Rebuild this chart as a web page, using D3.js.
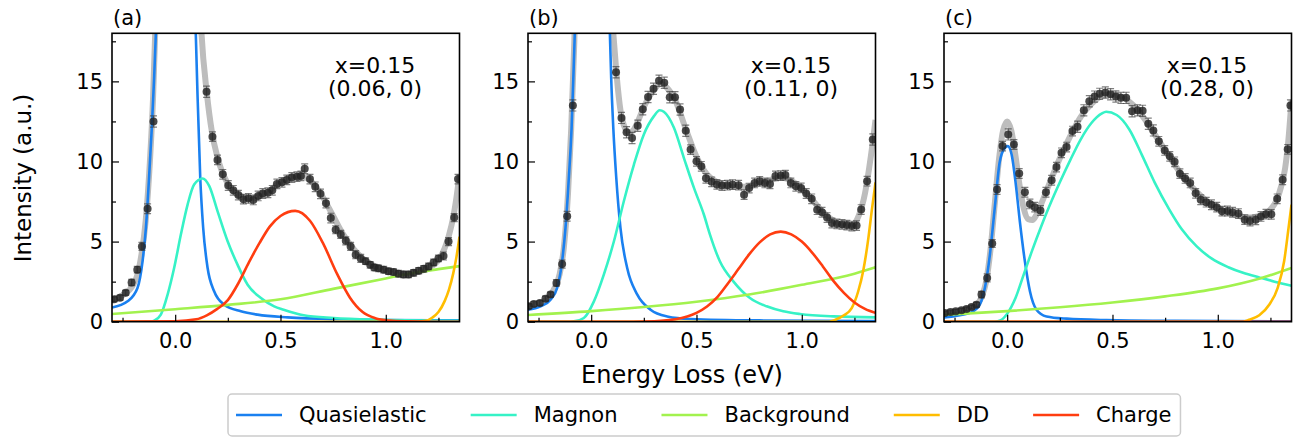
<!DOCTYPE html>
<html>
<head>
<meta charset="utf-8">
<script src="https://cdn.jsdelivr.net/npm/d3@7"></script>
<style>
  body { margin: 0; background: #fff; }
  text { font-family: "DejaVu Sans", sans-serif; fill: #000; }
</style>
</head>
<body>
<div id="chart"></div>
<script>
// ---- values ----
const panelLabels = ['(a)', '(b)', '(c)'];
const dopingLabel = 'x=0.15';
const qLabels = ['(0.06, 0)', '(0.11, 0)', '(0.28, 0)'];
const seriesNames = ['Quasielastic', 'Magnon', 'Background', 'DD', 'Charge'];
const seriesColors = ['#1a80f0', '#36f2c6', '#a2f24e', '#ffbd00', '#ff3d10'];
const xTicks = [0, 0.5, 1.0];
const xMinor = [-0.25, 0.25, 0.75, 1.25];
const yTicks = [0, 5, 10, 15];
const yMinor = [2.5, 7.5, 12.5, 17.5];

// measured points: [energy, intensity, error]
const dataA = [[-0.290,1.40,0.15],[-0.262,1.50,0.15],[-0.235,1.80,0.15],[-0.207,2.45,0.2],[-0.180,3.25,0.2],[-0.158,4.70,0.25],[-0.131,7.05,0.3],[-0.103,12.5,0.35],
  [0.149,14.35,0.35],[0.177,11.55,0.3],[0.201,10.1,0.3],[0.226,9.2,0.3],[0.252,8.5,0.3],[0.276,8.2,0.3],[0.300,7.9,0.3],[0.324,7.65,0.3],[0.348,7.7,0.3],[0.371,7.6,0.3],
  [0.394,7.85,0.3],[0.416,8.0,0.3],[0.440,8.05,0.3],[0.461,8.2,0.3],[0.483,8.6,0.3],[0.507,8.7,0.3],[0.530,8.85,0.3],[0.554,9.0,0.3],[0.578,9.05,0.3],[0.597,9.1,0.3],
  [0.615,9.55,0.3],[0.640,8.9,0.3],[0.665,8.42,0.3],[0.690,7.98,0.3],[0.716,7.4,0.3],[0.739,6.47,0.3],[0.762,5.74,0.25],[0.786,5.45,0.25],[0.810,5.05,0.25],[0.833,4.7,0.25],
  [0.857,4.18,0.25],[0.881,3.95,0.25],[0.904,3.78,0.2],[0.926,3.55,0.2],[0.945,3.38,0.2],[0.966,3.33,0.2],[0.990,3.25,0.2],[1.013,3.15,0.2],[1.037,3.1,0.2],[1.060,3.0,0.2],
  [1.084,2.95,0.2],[1.108,2.95,0.2],[1.132,3.05,0.2],[1.156,3.18,0.2],[1.180,3.3,0.2],[1.203,3.45,0.2],[1.227,3.7,0.2],[1.250,3.95,0.2],[1.274,4.1,0.25],[1.298,5.0,0.25],
  [1.325,6.5,0.25],[1.343,8.9,0.3]];
const dataB = [[-0.296,0.96,0.15],[-0.272,1.1,0.15],[-0.244,1.17,0.15],[-0.217,1.44,0.15],[-0.193,1.69,0.15],[-0.165,2.42,0.2],[-0.138,3.6,0.25],[-0.114,6.58,0.3],[-0.087,13.5,0.35],
  [0.118,15.57,0.35],[0.144,12.72,0.35],[0.168,11.82,0.35],[0.194,11.47,0.35],[0.221,12.23,0.35],[0.245,13.26,0.35],[0.270,14.02,0.35],[0.296,14.54,0.35],[0.322,15.04,0.35],
  [0.347,14.91,0.35],[0.373,14.01,0.35],[0.398,14.01,0.35],[0.422,13.24,0.35],[0.449,11.92,0.35],[0.472,10.74,0.3],[0.500,10.01,0.3],[0.523,9.7,0.3],[0.545,8.95,0.3],
  [0.572,8.73,0.3],[0.597,8.57,0.3],[0.621,8.5,0.3],[0.647,8.52,0.3],[0.671,8.56,0.3],[0.700,8.52,0.3],[0.726,7.93,0.3],[0.750,8.34,0.3],[0.776,8.66,0.3],[0.800,8.76,0.3],
  [0.825,8.66,0.3],[0.849,8.6,0.3],[0.875,9.1,0.3],[0.900,9.12,0.3],[0.922,9.15,0.3],[0.948,8.66,0.3],[0.972,8.45,0.3],[0.997,8.35,0.3],[1.021,8.0,0.3],[1.047,7.67,0.3],
  [1.073,6.99,0.3],[1.096,6.83,0.3],[1.120,6.5,0.3],[1.143,6.16,0.3],[1.167,6.1,0.3],[1.191,6.08,0.3],[1.214,6.03,0.3],[1.238,5.97,0.3],[1.260,6.0,0.3],[1.282,7.0,0.3],
  [1.310,8.77,0.3],[1.337,11.37,0.35]];
const dataC = [[-0.296,0.54,0.12],[-0.269,0.6,0.12],[-0.244,0.65,0.12],[-0.217,0.71,0.12],[-0.193,0.79,0.12],[-0.169,0.92,0.12],[-0.146,1.06,0.15],[-0.122,1.69,0.2],
  [-0.095,2.73,0.25],[-0.071,4.88,0.25],[-0.048,8.25,0.3],[-0.022,10.96,0.3],[0.005,11.69,0.35],[0.032,11.06,0.3],[0.057,9.25,0.3],[0.084,8.08,0.3],[0.108,7.35,0.3],
  [0.131,7.15,0.3],[0.158,6.94,0.3],[0.184,8.08,0.3],[0.211,8.83,0.3],[0.234,9.65,0.3],[0.258,10.54,0.3],[0.282,10.9,0.3],[0.310,11.9,0.3],[0.334,12.17,0.35],
  [0.364,13.19,0.35],[0.390,13.76,0.35],[0.415,14.05,0.35],[0.439,14.22,0.35],[0.466,14.3,0.35],[0.491,14.2,0.35],[0.516,14.06,0.35],[0.540,13.97,0.35],[0.565,13.97,0.35],
  [0.593,13.14,0.35],[0.619,13.19,0.35],[0.643,13.16,0.35],[0.670,12.35,0.35],[0.694,11.94,0.35],[0.720,11.26,0.3],[0.748,10.69,0.3],[0.772,10.32,0.3],[0.795,9.98,0.3],
  [0.820,9.24,0.3],[0.845,8.94,0.3],[0.869,8.66,0.3],[0.895,8.01,0.3],[0.919,7.61,0.3],[0.945,7.46,0.3],[0.970,7.3,0.3],[0.995,7.15,0.3],[1.020,6.9,0.3],[1.046,6.91,0.3],
  [1.070,6.83,0.3],[1.098,6.75,0.3],[1.128,6.37,0.3],[1.153,6.28,0.3],[1.180,6.36,0.3],[1.205,6.57,0.3],[1.229,6.71,0.3],[1.254,6.7,0.3],[1.282,7.67,0.3],[1.308,8.86,0.3],
  [1.332,10.76,0.3],[1.345,13.5,0.35]];

// total fit (grey)
const fitA = [[-0.3,1.38],[-0.25,1.65],[-0.2,2.3],[-0.18,2.9],[-0.16,4.2],[-0.14,6.3],[-0.12,10.0],[-0.105,14],[-0.095,18],[-0.05,45],[0,62],[0.05,45],[0.1,26],
  [0.125,18],[0.15,14.3],[0.175,11.8],[0.2,10.3],[0.25,8.6],[0.3,7.9],[0.35,7.7],[0.4,7.85],[0.45,8.2],[0.5,8.7],[0.55,9.05],[0.6,9.1],[0.65,8.7],[0.7,7.8],
  [0.75,6.6],[0.8,5.4],[0.85,4.5],[0.9,3.85],[0.95,3.45],[1.0,3.2],[1.05,3.05],[1.1,3.0],[1.15,3.1],[1.2,3.35],[1.25,3.85],[1.28,4.6],[1.3,5.4],[1.32,6.5],[1.335,7.7],[1.35,9.2]];
const fitB = [[-0.3,0.95],[-0.25,1.12],[-0.2,1.55],[-0.17,2.2],[-0.15,2.95],[-0.13,4.6],[-0.11,8.0],[-0.095,12.0],[-0.08,17.5],[-0.04,42],[0.005,62],[0.05,42],[0.09,21],
  [0.105,18],[0.12,15.5],[0.14,13.1],[0.16,12.1],[0.18,11.8],[0.2,11.95],[0.22,12.45],[0.25,13.4],[0.3,14.5],[0.33,14.85],[0.36,14.6],[0.4,13.8],[0.45,12.0],[0.5,10.3],
  [0.55,9.2],[0.6,8.7],[0.65,8.45],[0.7,8.4],[0.75,8.45],[0.8,8.65],[0.85,8.85],[0.9,9.0],[0.95,8.8],[1.0,8.3],[1.05,7.6],[1.1,6.85],[1.15,6.3],[1.2,6.0],[1.24,6.05],
  [1.27,6.6],[1.3,8.0],[1.32,9.6],[1.335,11.0],[1.35,12.6]];
const fitC = [[-0.3,0.5],[-0.2,0.75],[-0.15,1.0],[-0.12,1.6],[-0.1,2.5],[-0.08,4.4],[-0.06,7.2],[-0.04,10.0],[-0.02,11.9],[0,12.5],[0.02,11.9],[0.04,10.3],[0.06,8.4],
  [0.08,7.0],[0.1,6.4],[0.12,6.35],[0.14,6.7],[0.16,7.3],[0.2,8.6],[0.25,10.2],[0.3,11.6],[0.35,12.8],[0.4,13.6],[0.45,14.1],[0.5,14.2],[0.55,14.0],[0.6,13.5],[0.65,12.7],
  [0.7,11.7],[0.75,10.7],[0.8,9.7],[0.85,8.8],[0.9,8.1],[0.95,7.5],[1.0,7.1],[1.05,6.8],[1.1,6.6],[1.15,6.5],[1.2,6.6],[1.25,7.0],[1.28,7.6],[1.3,8.4],[1.32,9.6],
  [1.335,11.3],[1.35,13.8]];

// fit components, one list per series and panel
const quasiA = [[-0.3,0.88],[-0.226,1.27],[-0.179,2.1],[-0.155,3.77],[-0.139,5.85],[-0.124,9.0],[-0.111,12.1],[-0.1,15.2],[-0.092,17.9],[-0.06,35],[0,60],[0.06,35],
  [0.098,17.9],[0.106,14.2],[0.119,9.0],[0.133,5.85],[0.154,3.35],[0.185,1.9],[0.233,1.06],[0.312,0.65],[0.391,0.44],[0.534,0.27],[0.8,0.15],[1.0,0.11],[1.35,0.08]];
const magnonA = [[-0.3,0],[-0.12,0],[-0.1,0.06],[-0.068,0.44],[-0.036,1.69],[-0.005,3.35],[0.027,5.44],[0.059,7.31],[0.09,8.56],[0.13,8.94],[0.162,8.46],[0.201,6.9],
  [0.249,5.02],[0.296,3.56],[0.344,2.31],[0.407,1.48],[0.47,0.96],[0.515,0.75],[0.61,0.4],[0.752,0.23],[0.99,0.12],[1.35,0.05]];
const backgroundA = [[-0.3,0.48],[0,0.78],[0.25,1.05],[0.5,1.4],[0.75,2.05],[1.0,2.7],[1.1,2.97],[1.25,3.28],[1.35,3.47]];
const ddA = [[-0.3,0],[1.15,0],[1.19,0.05],[1.22,0.25],[1.25,0.6],[1.28,1.3],[1.3,2.0],[1.32,3.0],[1.335,4.0],[1.35,5.3]];
const chargeA = [[-0.3,0],[0,0.03],[0.1,0.15],[0.15,0.4],[0.2,0.8],[0.25,1.35],[0.3,2.4],[0.35,3.7],[0.4,4.9],[0.45,5.95],[0.5,6.6],[0.57,6.92],[0.64,6.3],
  [0.7,4.95],[0.77,2.95],[0.83,1.5],[0.89,0.6],[0.95,0.22],[1.02,0.07],[1.1,0.02],[1.2,0],[1.35,0]];

const quasiB = [[-0.3,0.75],[-0.24,0.96],[-0.193,1.375],[-0.162,2.1],[-0.138,3.77],[-0.122,5.85],[-0.106,9.0],[-0.093,12.1],[-0.082,16.3],[-0.078,17.9],[-0.04,40],
  [0.005,60],[0.05,40],[0.089,17.9],[0.095,15.2],[0.105,12.1],[0.119,9.0],[0.139,5.85],[0.171,3.35],[0.219,1.69],[0.282,0.75],[0.361,0.33],[0.472,0.17],[0.8,0.08],[1.35,0.04]];
const magnonB = [[-0.3,0],[-0.1,0],[-0.082,0.02],[-0.035,0.23],[0.013,1.27],[0.06,2.94],[0.108,5.02],[0.155,7.52],[0.203,9.81],[0.25,11.69],[0.298,12.83],[0.325,13.2],
  [0.345,13.1],[0.393,12.1],[0.44,10.23],[0.488,8.35],[0.535,6.69],[0.564,5.44],[0.611,3.77],[0.675,2.52],[0.754,1.48],[0.833,0.96],[0.912,0.65],[0.991,0.48],[1.15,0.33],[1.35,0.27]];
const backgroundB = [[-0.3,0.42],[0,0.66],[0.25,0.92],[0.5,1.25],[0.75,1.7],[1.0,2.3],[1.25,3.0],[1.35,3.4]];
const ddB = [[-0.3,0],[1.13,0],[1.16,0.12],[1.2,0.4],[1.237,0.85],[1.268,1.9],[1.292,3.2],[1.316,5.2],[1.332,6.9],[1.35,8.7]];
const chargeB = [[-0.3,0],[0.2,0],[0.3,0.03],[0.4,0.15],[0.5,0.55],[0.55,0.95],[0.6,1.55],[0.65,2.4],[0.7,3.3],[0.75,4.2],[0.8,4.95],[0.85,5.45],[0.9,5.62],
  [0.95,5.45],[1.0,5.0],[1.05,4.3],[1.1,3.45],[1.15,2.55],[1.2,1.8],[1.25,1.2],[1.3,0.8],[1.35,0.55]];

const quasiC = [[-0.3,0.27],[-0.225,0.4],[-0.162,0.65],[-0.13,1.06],[-0.106,2.1],[-0.082,4.19],[-0.059,7.1],[-0.035,10.0],[-0.011,10.85],[0.003,10.96],[0.021,10.44],
  [0.041,8.56],[0.06,6.27],[0.084,3.77],[0.108,1.9],[0.139,0.75],[0.187,0.33],[0.282,0.19],[0.472,0.1],[0.8,0.05],[1.35,0.02]];
const magnonC = [[-0.3,0],[-0.06,0],[-0.03,0.1],[0,0.5],[0.04,1.5],[0.08,3.0],[0.12,4.5],[0.16,5.9],[0.2,7.2],[0.25,8.7],[0.3,10.1],[0.35,11.4],[0.4,12.4],
  [0.45,13.0],[0.47,13.1],[0.52,12.9],[0.58,12.0],[0.64,10.4],[0.7,8.7],[0.77,7.0],[0.83,5.75],[0.9,4.7],[0.97,3.95],[1.05,3.4],[1.12,3.05],[1.2,2.75],
  [1.27,2.5],[1.35,2.25]];
const backgroundC = [[-0.3,0.43],[0,0.66],[0.25,0.9],[0.5,1.2],[0.75,1.58],[1.0,2.08],[1.2,2.7],[1.35,3.35]];
const ddC = [[-0.3,0],[1.12,0],[1.149,0.12],[1.197,0.4],[1.244,1.06],[1.284,2.1],[1.315,3.77],[1.336,5.85],[1.35,7.3]];
const chargeC = [[-0.3,0],[1.35,0]];

const panels = [
  { label: panelLabels[0], q: qLabels[0], data: dataA, fit: fitA, parts: [quasiA, magnonA, backgroundA, ddA, chargeA] },
  { label: panelLabels[1], q: qLabels[1], data: dataB, fit: fitB, parts: [quasiB, magnonB, backgroundB, ddB, chargeB] },
  { label: panelLabels[2], q: qLabels[2], data: dataC, fit: fitC, parts: [quasiC, magnonC, backgroundC, ddC, chargeC] }
];

// ---- layout ----
const width = 1302, height = 439;
const panelLeft = [112, 528, 944];
const panelW = 347.5;
const plotTop = 33.3, plotBottom = 321.7;

const svg = d3.select('#chart').append('svg')
  .attr('width', width)
  .attr('height', height);

panels.forEach((p, i) => {
  const x = d3.scaleLinear().domain([-0.3, 1.35]).range([panelLeft[i], panelLeft[i] + panelW]);
  const y = d3.scaleLinear().domain([0, 18]).range([plotBottom, plotTop]);

  const clipId = 'clip' + i;
  svg.append('clipPath').attr('id', clipId)
    .append('rect')
      .attr('x', x.range()[0]).attr('y', plotTop)
      .attr('width', panelW).attr('height', plotBottom - plotTop);

  const g = svg.append('g');
  const plot = g.append('g').attr('clip-path', `url(#${clipId})`);

  const line = d3.line()
    .x(d => x(d[0]))
    .y(d => y(d[1]))
    .curve(d3.curveMonotoneX);

  // fit envelope
  plot.append('path')
    .attr('d', line(p.fit))
    .attr('fill', 'none')
    .attr('stroke', '#bdbdbd')
    .attr('stroke-width', 6)
    .attr('stroke-linejoin', 'round');

  // components
  p.parts.forEach((part, k) => {
    plot.append('path')
      .attr('d', line(part))
      .attr('fill', 'none')
      .attr('stroke', seriesColors[k])
      .attr('stroke-width', 2.6);
  });

  // error bars
  const eb = plot.append('g')
    .attr('stroke', '#3a3a3a')
    .attr('stroke-opacity', 0.65)
    .attr('stroke-width', 1.2);
  p.data.forEach(d => {
    eb.append('line')
      .attr('x1', x(d[0])).attr('x2', x(d[0]))
      .attr('y1', y(d[1] - d[2])).attr('y2', y(d[1] + d[2]));
    [d[1] - d[2], d[1] + d[2]].forEach(v => {
      eb.append('line')
        .attr('x1', x(d[0]) - 3.5).attr('x2', x(d[0]) + 3.5)
        .attr('y1', y(v)).attr('y2', y(v));
    });
  });

  plot.append('g')
    .selectAll('circle')
    .data(p.data)
    .join('circle')
      .attr('cx', d => x(d[0]))
      .attr('cy', d => y(d[1]))
      .attr('r', 4)
      .attr('fill', '#222')
      .attr('fill-opacity', 0.82);

  // axes (ticks point inward)
  g.append('g')
    .attr('transform', `translate(0,${plotBottom})`)
    .call(d3.axisBottom(x).tickValues(xTicks).tickSize(-7).tickPadding(11).tickFormat(d3.format('.1f')));
  g.append('g')
    .attr('transform', `translate(0,${plotBottom})`)
    .call(d3.axisBottom(x).tickValues(xMinor).tickSize(-4).tickFormat(''));
  g.append('g')
    .attr('transform', `translate(${x.range()[0]},0)`)
    .call(d3.axisLeft(y).tickValues(yTicks).tickSize(-7).tickPadding(9).tickFormat(d3.format('d')));
  g.append('g')
    .attr('transform', `translate(${x.range()[0]},0)`)
    .call(d3.axisLeft(y).tickValues(yMinor).tickSize(-4).tickFormat(''));

  g.selectAll('.domain').remove();
  g.selectAll('.tick line').attr('stroke', '#000').attr('stroke-width', 1.2);
  g.selectAll('.tick text')
    .style('font-family', '"DejaVu Sans", sans-serif')
    .style('font-size', '21px')
    .attr('fill', '#000');

  // frame
  g.append('rect')
    .attr('x', x.range()[0]).attr('y', plotTop)
    .attr('width', panelW).attr('height', plotBottom - plotTop)
    .attr('fill', 'none')
    .attr('stroke', '#000')
    .attr('stroke-width', 1.6);

  // panel letter and annotation
  g.append('text')
    .attr('x', x.range()[0] + 1).attr('y', 25)
    .style('font-size', '21px')
    .text(p.label);

  const cx = x.range()[0] + panelW * 0.757;
  g.append('text')
    .attr('x', cx).attr('y', 73)
    .attr('text-anchor', 'middle')
    .style('font-size', '22px')
    .text(dopingLabel);
  g.append('text')
    .attr('x', cx).attr('y', 95.5)
    .attr('text-anchor', 'middle')
    .style('font-size', '22px')
    .text(p.q);
});

// axis titles
svg.append('text')
  .attr('x', 682).attr('y', 383)
  .attr('text-anchor', 'middle')
  .style('font-size', '24px')
  .text('Energy Loss (eV)');

svg.append('text')
  .attr('transform', 'translate(31,178) rotate(-90)')
  .attr('text-anchor', 'middle')
  .style('font-size', '23px')
  .text('Intensity (a.u.)');

// legend
const legend = svg.append('g');
const box = legend.append('rect')
  .attr('x', 228).attr('y', 394)
  .attr('width', 953).attr('height', 42)
  .attr('rx', 4)
  .attr('fill', '#fff')
  .attr('stroke', '#cccccc')
  .attr('stroke-width', 1.5);

let lx = 236;
seriesNames.forEach((name, k) => {
  legend.append('line')
    .attr('x1', lx).attr('x2', lx + 46)
    .attr('y1', 415).attr('y2', 415)
    .attr('stroke', seriesColors[k])
    .attr('stroke-width', 2.6);
  const t = legend.append('text')
    .attr('x', lx + 63).attr('y', 422)
    .style('font-size', '21px')
    .text(name);
  lx += 63 + t.node().getComputedTextLength() + 44;
});
box.attr('width', lx - 44 + 9 - 228);
</script>
</body>
</html>
